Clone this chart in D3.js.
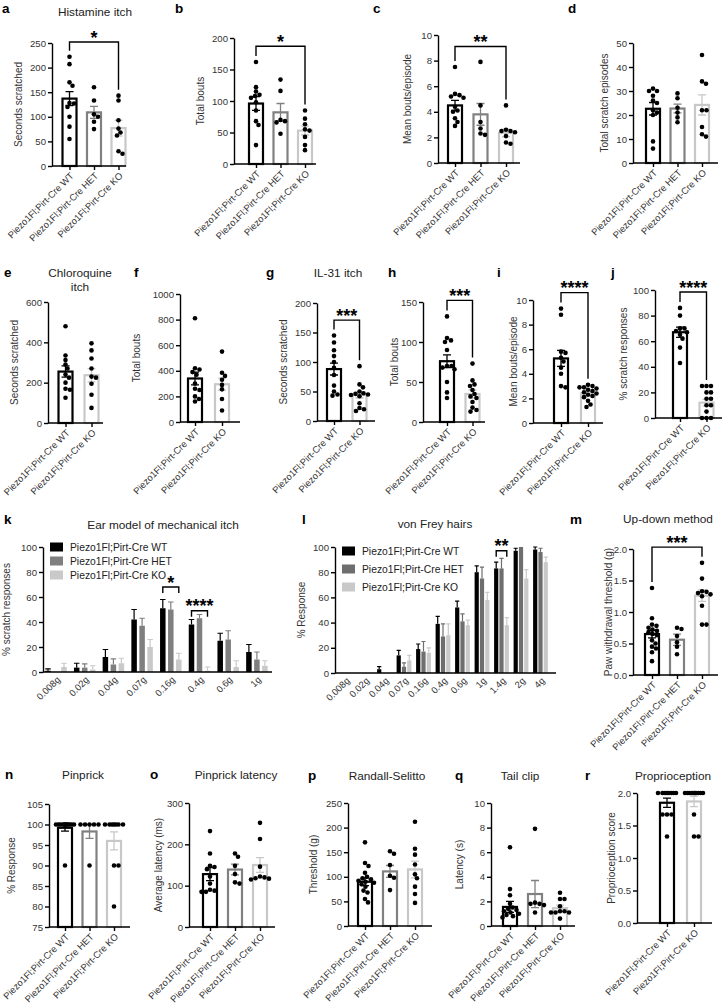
<!DOCTYPE html>
<html lang="en">
<head>
<meta charset="UTF-8">
<title>Piezo1 - itch and mechanosensation</title>
<style>
  body { margin: 0; background: #fff; }
  svg { display: block; }
  text { font-family: "Liberation Sans", Arial, sans-serif; }
  .axis path, .axis line { stroke: #000; stroke-width: 1.4px; }
  .axis text { font-size: 9.6px; fill: #333; }
  .xlab text { font-size: 9.4px; fill: #333; }
  .title { font-size: 11.8px; fill: #222; text-anchor: middle; }
  .letter { font-size: 13.5px; font-weight: bold; fill: #000; }
  .ylab { font-size: 10px; fill: #333; text-anchor: middle; }
  .legend { font-size: 10.3px; fill: #222; }
  .star { font-size: 18px; font-weight: bold; fill: #000; }
</style>
</head>
<body>
<svg width="725" height="1006"></svg>
<script src="https://d3js.org/d3.v7.min.js"></script>
<script>
// ---- data ----
var genotypes3 = ["Piezo1Fl;Pirt-Cre WT", "Piezo1Fl;Pirt-Cre HET", "Piezo1Fl;Pirt-Cre KO"];
var genotypes2 = ["Piezo1Fl;Pirt-Cre WT", "Piezo1Fl;Pirt-Cre KO"];

// a  histamine, seconds scratched
var histSecWT = [222, 207, 170, 163, 128, 127, 120, 100, 80, 55];
var histSecHET = [160, 133, 105, 100, 90, 75];
var histSecKO = [143, 133, 93, 76, 68, 62, 30, 25];
var histSecMean = [137, 109, 77];
var histSecSem = [14, 12, 16];
// b  histamine, total bouts
var histBoutWT = [162, 122, 115, 110, 108, 105, 98, 85, 68, 62, 30];
var histBoutHET = [134, 116, 70, 68, 66, 48];
var histBoutKO = [85, 72, 63, 55, 53, 43, 30, 22];
var histBoutMean = [96, 82, 53];
var histBoutSem = [11, 14, 7];
// c  histamine, mean bouts/episode
var histBpeWT = [7.5, 5.4, 5.3, 5.2, 5.1, 4.4, 4.1, 4.0, 3.5, 3.2, 2.9];
var histBpeHET = [7.9, 4.5, 3.2, 2.7, 2.3, 2.2];
var histBpeKO = [4.5, 2.6, 2.5, 2.5, 2.4, 2.1, 1.6, 1.5];
var histBpeMean = [4.5, 3.8, 2.35];
var histBpeSem = [0.4, 0.85, 0.3];
// d  histamine, total scratch episodes
var histEpiWT = [31, 30, 30, 28, 26, 25, 22, 21, 20, 9, 6];
var histEpiHET = [29, 27, 23, 21, 19, 17];
var histEpiKO = [45, 34, 33, 22, 22, 15, 12, 11];
var histEpiMean = [22.6, 22.7, 24.2];
var histEpiSem = [2.6, 1.8, 4.2];
// e  chloroquine, seconds scratched
var cqSecWT = [480, 335, 312, 290, 270, 240, 225, 200, 170, 165, 125];
var cqSecKO = [395, 360, 320, 270, 230, 225, 195, 140, 75];
var cqSecMean = [255, 237];
var cqSecSem = [28, 33];
// f  chloroquine, total bouts
var cqBoutWT = [810, 420, 410, 390, 370, 300, 260, 250, 200, 180, 160];
var cqBoutKO = [550, 385, 360, 330, 290, 255, 180, 90];
var cqBoutMean = [340, 295];
var cqBoutSem = [50, 48];
// g  IL-31, seconds scratched
var ilSecWT = [145, 133, 120, 110, 100, 90, 78, 60, 50, 45, 43];
var ilSecKO = [93, 62, 57, 50, 47, 46, 45, 44, 42, 30, 22, 20, 17];
var ilSecMean = [88, 44];
var ilSecSem = [10, 5];
// h  IL-31, total bouts
var ilBoutWT = [132, 105, 102, 100, 90, 70, 70, 68, 66, 50, 37, 30];
var ilBoutKO = [73, 52, 47, 45, 40, 35, 32, 30, 25, 18, 15, 13];
var ilBoutMean = [76, 35];
var ilBoutSem = [8, 5];
// i  IL-31, mean bouts/episode
var ilBpeWT = [9.3, 8.8, 5.8, 5.7, 5.3, 5.0, 4.5, 4.0, 3.0, 2.9];
var ilBpeKO = [3.1, 3.0, 2.9, 2.9, 2.8, 2.7, 2.6, 2.5, 2.4, 2.3, 2.2, 2.1, 1.8, 1.5, 1.3];
var ilBpeMean = [5.25, 2.4];
var ilBpeSem = [0.65, 0.15];
// j  % scratch responses
var scratchWT = [86, 80, 70, 70, 68, 67, 65, 62, 55, 43];
var scratchKO = [25, 25, 25, 20, 20, 15, 15, 10, 10, 5, 0, 0, 0];
var scratchMean = [67, 12];
var scratchSem = [4, 2.5];
// k  ear model of mechanical itch
var earForces = ["0.008g", "0.02g", "0.04g", "0.07g", "0.16g", "0.4g", "0.6g", "1g"];
var earWT = [1, 3.5, 12, 42, 51, 38, 25, 16];
var earWTerr = [1.5, 3.5, 6, 8, 7, 4, 6, 6];
var earHET = [0, 3.5, 6, 37, 50, 43, 26, 10];
var earHETerr = [0, 3, 4.5, 6, 6, 3, 7, 6];
var earKO = [4, 2, 7, 20, 10, 1, 4, 5];
var earKOerr = [3, 3, 4, 6, 5, 3, 5, 4];
// l  von Frey hairs
var vfForces = ["0.008g", "0.02g", "0.04g", "0.07g", "0.16g", "0.4g", "0.6g", "1g", "1.4g", "2g", "4g"];
var vfWT = [0, 0, 3, 14, 19, 39, 52, 80, 83, 97, 98];
var vfWTerr = [0, 0, 2, 4, 4, 6, 5, 5, 5, 2, 2];
var vfHET = [0, 0, 0, 5, 17, 29, 41, 75, 83, 100, 96];
var vfHETerr = [0, 0, 0, 3, 8, 10, 6, 9, 8, 0, 3];
var vfKO = [0, 0, 0, 10, 16, 30, 38, 58, 38, 75, 88];
var vfKOerr = [0, 0, 0, 4, 4, 9, 4, 6, 6, 7, 4];
// m  up-down method
var udWT = [1.38, 0.9, 0.8, 0.78, 0.75, 0.72, 0.7, 0.68, 0.65, 0.63, 0.55, 0.5, 0.45, 0.42, 0.36, 0.22];
var udHET = [0.75, 0.73, 0.62, 0.52, 0.45, 0.33];
var udKO = [1.78, 1.53, 1.33, 1.32, 1.3, 1.28, 1.25, 1.1, 0.8, 0.8];
var udMean = [0.65, 0.56, 1.26];
var udSem = [0.06, 0.09, 0.09];
// n  pinprick
var ppWT = [100, 100, 100, 100, 100, 100, 100, 100, 100, 100, 100, 100, 90];
var ppHET = [100, 100, 100, 100, 100, 90];
var ppKO = [100, 100, 100, 100, 100, 100, 100, 90, 90, 80];
var ppMean = [99.2, 98.3, 96];
var ppSem = [0.8, 1.7, 2.2];
// o  pinprick latency
var latWT = [232, 178, 148, 145, 140, 122, 105, 90, 88, 85, 85];
var latHET = [178, 170, 148, 128, 108, 105];
var latKO = [252, 213, 146, 122, 120, 118, 117, 115];
var latMean = [128, 139, 150];
var latSem = [16, 13, 18];
// p  Randall-Selitto
var rsWT = [170, 128, 122, 108, 100, 97, 95, 92, 90, 88, 85, 80, 72, 68, 55, 48];
var rsHET = [152, 147, 124, 102, 98, 73];
var rsKO = [212, 157, 145, 125, 105, 97, 80, 65, 47];
var rsMean = [90, 111, 115];
var rsSem = [8, 12, 17];
// q  tail clip
var tcWT = [6.4, 3.0, 2.5, 1.8, 1.5, 1.4, 1.3, 1.2, 1.1, 1.0, 0.9, 0.8, 0.7];
var tcHET = [7.9, 1.9, 1.8, 1.8, 1.7, 1.1];
var tcKO = [2.7, 2.2, 2.2, 1.6, 1.2, 1.2, 1.1, 1.1, 1.1, 0.6];
var tcMean = [1.55, 2.6, 1.45];
var tcSem = [0.45, 1.1, 0.25];
// r  proprioception
var propWT = [2, 2, 2, 2, 2, 2, 2, 2, 1.67, 1.67, 1.67, 1.33];
var propKO = [2, 2, 2, 2, 2, 2, 2, 2, 2, 2, 1.67, 1.33, 1.33];
var propMean = [1.85, 1.87];
var propSem = [0.07, 0.08];

// ---- drawing ----
var svg = d3.select("svg");
svg.append("rect").attr("width", 725).attr("height", 1006).attr("fill", "#fff");

var col3 = ["#000000", "#808080", "#c8c8c8"];
var col2 = ["#000000", "#c8c8c8"];

function label(x, y, t) {
  svg.append("text").attr("class", "letter").attr("x", x).attr("y", y).text(t);
}
function title(x, y, lines) {
  var t = svg.append("text").attr("class", "title").attr("x", x).attr("y", y);
  lines.forEach(function(l, i) {
    t.append("tspan").attr("x", x).attr("dy", i ? 14 : 0).text(l);
  });
}

// simple deterministic beeswarm: keeps y, picks smallest free x offset
function swarm(vals, y, r, maxW) {
  var pts = vals.map(function(v) { return {v: v, py: y(v), dx: 0}; })
    .sort(function(a, b) { return a.py - b.py; });
  var placed = [];
  pts.forEach(function(p) {
    var best = 0, bestD = -1;
    for (var k = 0; k <= maxW; k += 0.5) {
      var cands = k === 0 ? [0] : [k, -k];
      for (var c = 0; c < cands.length; c++) {
        var dmin = Infinity;
        placed.forEach(function(q) {
          var d = Math.hypot(q.dx - cands[c], q.py - p.py);
          if (d < dmin) dmin = d;
        });
        if (dmin >= 2 * r * 0.95) { p.dx = cands[c]; placed.push(p); return; }
        if (dmin > bestD) { bestD = dmin; best = cands[c]; }
      }
      if (k === maxW) break;
    }
    if (placed.indexOf(p) < 0) { p.dx = best; placed.push(p); }
  });
  return pts;
}

function bracket(x1, x2, yb, y1, y2, txt) {
  svg.append("path")
    .attr("d", "M" + x1 + "," + y1 + "V" + yb + "H" + x2 + "V" + y2)
    .attr("fill", "none").attr("stroke", "#000").attr("stroke-width", 1.4);
  svg.append("text").attr("class", "star").attr("text-anchor", "middle")
    .attr("x", (x1 + x2) / 2).attr("y", yb + 1.5).text(txt);
}

function xLabels(axisG, dx, dy) {
  axisG.selectAll(".tick text")
    .attr("x", 0).attr("y", 0).attr("dy", "0.35em")
    .attr("transform", "translate(" + dx + "," + dy + ") rotate(-45)")
    .style("text-anchor", "end");
}

function dotPanel(p) {
  var g = svg.append("g");
  var y = d3.scaleLinear().domain(p.domain).range([p.yBot, p.yTop]);
  var x = d3.scalePoint().domain(p.cats)
    .range([p.x0 + p.off, p.x0 + p.off + p.step * (p.cats.length - 1)]);
  var base = p.domain[0], bw = 14, r = 2.3;

  p.groups.forEach(function(vals, i) {
    var cx = x(p.cats[i]), c = p.colors[i];
    var m = p.means[i], s = p.sems[i];
    g.append("rect")
      .attr("x", cx - bw / 2).attr("y", y(m))
      .attr("width", bw).attr("height", y(base) - y(m))
      .attr("fill", "#fff").attr("stroke", c).attr("stroke-width", 2.2);
    g.append("path")
      .attr("d", "M" + cx + "," + y(m - s) + "V" + y(m + s) +
        "M" + (cx - 4) + "," + y(m + s) + "H" + (cx + 4) +
        "M" + (cx - 4) + "," + y(m - s) + "H" + (cx + 4))
      .attr("fill", "none").attr("stroke", c).attr("stroke-width", 1.3);
  });

  var ya = g.append("g").attr("class", "axis")
    .attr("transform", "translate(" + p.x0 + ",0)")
    .call(d3.axisLeft(y).tickValues(p.ticks).tickSize(4).tickSizeOuter(0)
      .tickPadding(2).tickFormat(p.fmt || d3.format("d")));
  var xa = g.append("g").attr("class", "axis xlab")
    .attr("transform", "translate(0," + p.yBot + ")")
    .call(d3.axisBottom(x).tickSize(4).tickSizeOuter(0));
  xa.select(".domain").attr("d", "M" + p.x0 + ",0H" + p.xEnd);
  xLabels(xa, 2, 8);

  p.groups.forEach(function(vals, i) {
    var cx = x(p.cats[i]);
    g.selectAll(null).data(swarm(vals, y, r, p.spread || 9)).enter()
      .append("circle")
      .attr("cx", function(d) { return cx + d.dx; })
      .attr("cy", function(d) { return d.py; })
      .attr("r", r).attr("fill", "#000");
  });

  svg.append("text").attr("class", "ylab")
    .attr("transform", "translate(" + p.ylx + "," + (p.yTop + p.yBot) / 2 + ") rotate(-90)")
    .text(p.ylabel);

  if (p.sig) {
    var a = p.sig[0], b = p.sig[1];
    var topA = Math.max(d3.max(p.groups[a]), p.means[a] + p.sems[a]);
    var topB = Math.max(d3.max(p.groups[b]), p.means[b] + p.sems[b]);
    bracket(x(p.cats[a]), x(p.cats[b]), y(p.sig[2]), y(topA) - 6, y(topB) - 6, p.sig[3]);
  }
}

function groupPanel(p) {
  var g = svg.append("g");
  var y = d3.scaleLinear().domain([0, 100]).range([p.yBot, p.yTop]);
  var x = d3.scalePoint().domain(p.cats)
    .range([p.g0, p.g0 + p.gStep * (p.cats.length - 1)]);
  var sub = d3.scalePoint().domain([0, 1, 2]).range([-p.bStep, p.bStep]);

  p.series.forEach(function(s, si) {
    g.selectAll(null).data(p.cats).enter().append("path")
      .attr("d", function(c, i) {
        var cx = x(c) + sub(si), v = s.vals[i], e = s.errs[i];
        if (e <= 0) return null;
        return "M" + cx + "," + y(v) + "V" + y(v + e) +
          "M" + (cx - p.bw / 2) + "," + y(v + e) + "H" + (cx + p.bw / 2);
      })
      .attr("fill", "none").attr("stroke", s.color).attr("stroke-width", 1.2);
    g.selectAll(null).data(p.cats).enter().append("rect")
      .attr("x", function(c) { return x(c) + sub(si) - p.bw / 2; })
      .attr("y", function(c, i) { return y(s.vals[i]); })
      .attr("width", p.bw)
      .attr("height", function(c, i) { return y(0) - y(s.vals[i]); })
      .attr("fill", s.color);
  });

  g.append("g").attr("class", "axis")
    .attr("transform", "translate(" + p.x0 + ",0)")
    .call(d3.axisLeft(y).tickValues([0, 20, 40, 60, 80, 100]).tickSize(4)
      .tickSizeOuter(0).tickPadding(2));
  var xa = g.append("g").attr("class", "axis xlab")
    .attr("transform", "translate(0," + p.yBot + ")")
    .call(d3.axisBottom(x).tickSize(0).tickSizeOuter(0));
  xa.select(".domain").attr("d", "M" + p.x0 + ",0H" + p.xEnd);
  xLabels(xa, 2, 6);

  p.series.forEach(function(s, si) {
    var ly = p.legY + si * p.legGap;
    svg.append("rect").attr("x", p.legX).attr("y", ly - 4.5)
      .attr("width", 13).attr("height", 9).attr("fill", s.color);
    svg.append("text").attr("class", "legend")
      .attr("x", p.legX + 20).attr("y", ly + 3.7).text(s.name);
  });

  svg.append("text").attr("class", "ylab")
    .attr("transform", "translate(" + p.ylx + "," + (p.yTop + p.yBot) / 2 + ") rotate(-90)")
    .text(p.ylabel);

  p.sig.forEach(function(sg) {
    var cx = x(sg[0]), yb = y(sg[1]);
    bracket(cx + sub(0), cx + sub(2), yb, yb + 6, yb + 6, sg[2]);
  });
}

// ---- row 1: histamine ----
label(2, 13, "a"); label(175, 13, "b"); label(373, 13, "c"); label(568, 13, "d");
title(95, 16, ["Histamine itch"]);
dotPanel({cats: genotypes3, colors: col3, x0: 52, off: 17.5, step: 24.5, xEnd: 126,
  yTop: 43, yBot: 166, domain: [0, 250], ticks: [0, 50, 100, 150, 200, 250],
  groups: [histSecWT, histSecHET, histSecKO], means: histSecMean, sems: histSecSem,
  ylabel: "Seconds scratched", ylx: 22, sig: [0, 2, 252, "*"]});
dotPanel({cats: genotypes3, colors: col3, x0: 234, off: 22, step: 24.5, xEnd: 316,
  yTop: 38, yBot: 164, domain: [0, 200], ticks: [0, 50, 100, 150, 200],
  groups: [histBoutWT, histBoutHET, histBoutKO], means: histBoutMean, sems: histBoutSem,
  ylabel: "Total bouts", ylx: 204, sig: [0, 2, 187, "*"]});
dotPanel({cats: genotypes3, colors: col3, x0: 438, off: 17, step: 25.5, xEnd: 520,
  yTop: 35, yBot: 163, domain: [0, 10], ticks: [0, 2, 4, 6, 8, 10],
  groups: [histBpeWT, histBpeHET, histBpeKO], means: histBpeMean, sems: histBpeSem,
  ylabel: "Mean bouts/episode", ylx: 411, sig: [0, 2, 9.1, "**"]});
dotPanel({cats: genotypes3, colors: col3, x0: 633, off: 20, step: 24.5, xEnd: 718,
  yTop: 43, yBot: 163, domain: [0, 50], ticks: [0, 10, 20, 30, 40, 50],
  groups: [histEpiWT, histEpiHET, histEpiKO], means: histEpiMean, sems: histEpiSem,
  ylabel: "Total scratch episodes", ylx: 608});

// ---- row 2: chloroquine, IL-31, scratch ----
label(4, 277, "e"); label(134, 277, "f"); label(266, 277, "g");
label(388, 277, "h"); label(497, 277, "i"); label(611, 277, "j");
title(80, 277, ["Chloroquine", "itch"]);
title(338, 277, ["IL-31 itch"]);
dotPanel({cats: genotypes2, colors: col2, x0: 48, off: 17.5, step: 26, xEnd: 103,
  yTop: 302, yBot: 423, domain: [0, 600], ticks: [0, 200, 400, 600],
  groups: [cqSecWT, cqSecKO], means: cqSecMean, sems: cqSecSem,
  ylabel: "Seconds scratched", ylx: 18});
dotPanel({cats: genotypes2, colors: col2, x0: 180, off: 15, step: 27, xEnd: 240,
  yTop: 294, yBot: 422, domain: [0, 1000], ticks: [0, 200, 400, 600, 800, 1000],
  groups: [cqBoutWT, cqBoutKO], means: cqBoutMean, sems: cqBoutSem,
  ylabel: "Total bouts", ylx: 140});
dotPanel({cats: genotypes2, colors: col2, x0: 317, off: 17, step: 25.5, xEnd: 375,
  yTop: 303, yBot: 421, domain: [0, 200], ticks: [0, 50, 100, 150, 200],
  groups: [ilSecWT, ilSecKO], means: ilSecMean, sems: ilSecSem,
  ylabel: "Seconds scratched", ylx: 287, sig: [0, 1, 171, "***"]});
dotPanel({cats: genotypes2, colors: col2, x0: 423, off: 24, step: 25.5, xEnd: 485,
  yTop: 302, yBot: 422, domain: [0, 150], ticks: [0, 50, 100, 150],
  groups: [ilBoutWT, ilBoutKO], means: ilBoutMean, sems: ilBoutSem,
  ylabel: "Total bouts", ylx: 398, sig: [0, 1, 152, "***"]});
dotPanel({cats: genotypes2, colors: col2, x0: 533, off: 28, step: 27, xEnd: 603,
  yTop: 300, yBot: 423, domain: [0, 10], ticks: [0, 2, 4, 6, 8, 10],
  groups: [ilBpeWT, ilBpeKO], means: ilBpeMean, sems: ilBpeSem,
  ylabel: "Mean bouts/episode", ylx: 517, sig: [0, 1, 10.6, "****"]});
dotPanel({cats: genotypes2, colors: col2, x0: 655, off: 25, step: 26.5, xEnd: 722,
  yTop: 290, yBot: 418, domain: [0, 100], ticks: [0, 20, 40, 60, 80, 100],
  groups: [scratchWT, scratchKO], means: scratchMean, sems: scratchSem,
  ylabel: "% scratch responses", ylx: 627, sig: [0, 1, 98.4, "****"]});

// ---- row 3: mechanical ----
label(4, 524, "k"); label(302, 524, "l"); label(570, 524, "m");
title(163, 529, ["Ear model of mechanical itch"]);
title(435, 528, ["von Frey hairs"]);
title(668, 523, ["Up-down method"]);
groupPanel({cats: earForces, x0: 43, g0: 56, gStep: 28.7, bStep: 8, bw: 5.5, xEnd: 272,
  yTop: 547, yBot: 672, ylabel: "% scratch responses", ylx: 10,
  legX: 50, legY: 547, legGap: 14,
  series: [
    {name: genotypes3[0], vals: earWT, errs: earWTerr, color: "#000000"},
    {name: genotypes3[1], vals: earHET, errs: earHETerr, color: "#7f7f7f"},
    {name: genotypes3[2], vals: earKO, errs: earKOerr, color: "#c9c9c9"}],
  sig: [["0.16g", 68, "*"], ["0.4g", 49, "****"]]});
groupPanel({cats: vfForces, x0: 335, g0: 345.5, gStep: 19.5, bStep: 5.3, bw: 4.2, xEnd: 556,
  yTop: 547, yBot: 673, ylabel: "% Response", ylx: 305,
  legX: 342, legY: 551, legGap: 18,
  series: [
    {name: genotypes3[0], vals: vfWT, errs: vfWTerr, color: "#000000"},
    {name: genotypes3[1], vals: vfHET, errs: vfHETerr, color: "#6e6e6e"},
    {name: genotypes3[2], vals: vfKO, errs: vfKOerr, color: "#c9c9c9"}],
  sig: [["1.4g", 97, "**"]]});
dotPanel({cats: genotypes3, colors: col3, x0: 633, off: 19, step: 25, xEnd: 718,
  yTop: 549, yBot: 675, domain: [0, 2], ticks: [0, 0.5, 1, 1.5, 2], fmt: d3.format(".1f"),
  groups: [udWT, udHET, udKO], means: udMean, sems: udSem,
  ylabel: "Paw withdrawal threshold (g)", ylx: 612, sig: [0, 2, 2.03, "***"]});

// ---- row 4: pain / proprioception ----
label(5, 779, "n"); label(150, 779, "o"); label(308, 780, "p");
label(455, 780, "q"); label(585, 780, "r");
title(83, 779, ["Pinprick"]);
title(236, 779, ["Pinprick latency"]);
title(387, 780, ["Randall-Selitto"]);
title(520, 780, ["Tail clip"]);
title(673, 780, ["Proprioception"]);
dotPanel({cats: genotypes3, colors: col3, x0: 49, off: 16, step: 24.5, xEnd: 130,
  yTop: 804, yBot: 927, domain: [75, 105], ticks: [75, 80, 85, 90, 95, 100, 105],
  groups: [ppWT, ppHET, ppKO], means: ppMean, sems: ppSem, spread: 9,
  ylabel: "% Response", ylx: 15});
dotPanel({cats: genotypes3, colors: col3, x0: 189, off: 21, step: 25, xEnd: 275,
  yTop: 803, yBot: 927, domain: [0, 300], ticks: [0, 100, 200, 300],
  groups: [latWT, latHET, latKO], means: latMean, sems: latSem,
  ylabel: "Average latency (ms)", ylx: 162});
dotPanel({cats: genotypes3, colors: col3, x0: 348, off: 17, step: 25, xEnd: 432,
  yTop: 803, yBot: 926, domain: [0, 250], ticks: [0, 50, 100, 150, 200, 250],
  groups: [rsWT, rsHET, rsKO], means: rsMean, sems: rsSem,
  ylabel: "Threshold (g)", ylx: 317});
dotPanel({cats: genotypes3, colors: col3, x0: 491, off: 19, step: 25, xEnd: 575,
  yTop: 803, yBot: 926, domain: [0, 10], ticks: [0, 2, 4, 6, 8, 10],
  groups: [tcWT, tcHET, tcKO], means: tcMean, sems: tcSem,
  ylabel: "Latency (s)", ylx: 463});
dotPanel({cats: genotypes2, colors: col2, x0: 637, off: 30, step: 27, xEnd: 712,
  yTop: 793, yBot: 923, domain: [0, 2], ticks: [0, 0.5, 1, 1.5, 2], fmt: d3.format(".1f"),
  groups: [propWT, propKO], means: propMean, sems: propSem, spread: 9,
  ylabel: "Proprioception score", ylx: 615});
</script>
</body>
</html>
